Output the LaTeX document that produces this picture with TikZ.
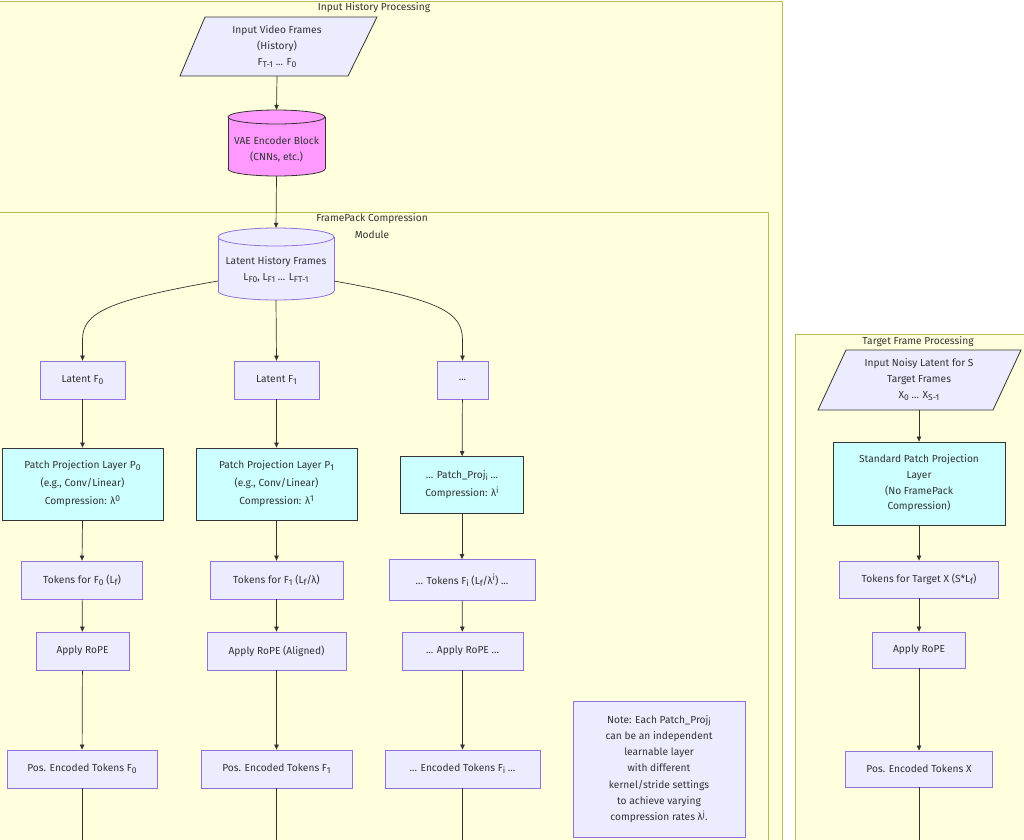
\documentclass[tikz,border=0pt]{standalone}
\usepackage{fontspec}
\setmainfont{Fira Sans}
\usetikzlibrary{arrows.meta}
\definecolor{clfill}{HTML}{FFFFDE}
\definecolor{clstroke}{HTML}{BBBB55}
\definecolor{nfill}{HTML}{ECECFF}
\definecolor{nstroke}{HTML}{9370DB}
\definecolor{cyanfill}{HTML}{CCFFFF}
\definecolor{pinkfill}{HTML}{FF99FF}
\definecolor{ink}{HTML}{333333}
\newcommand\sbs[1]{\raisebox{-0.35ex}{\fontsize{8.5}{8.5}\selectfont #1}}
\newcommand\sps[1]{\raisebox{0.7ex}{\fontsize{8.5}{8.5}\selectfont #1}}
\newcommand\drawcyl[7]{% #1 left #2 right #3 top #4 bottom #5 ry #6 fill #7 stroke
  \pgfmathsetmacro\cylcx{(#1+#2)/2}\pgfmathsetmacro\cylrx{(#2-#1)/2}
  \filldraw[fill=#6,draw=#7,line width=0.8pt] (\cylcx,#4-#5) ellipse[x radius=\cylrx, y radius=#5];
  \fill[#6] (#1,#3+#5) rectangle (#2,#4-#5);
  \draw[#7,line width=0.8pt] (#1,#3+#5) -- (#1,#4-#5) (#2,#3+#5) -- (#2,#4-#5);
  \filldraw[fill=#6,draw=#7,line width=0.8pt] (\cylcx,#3+#5) ellipse[x radius=\cylrx, y radius=#5];
}
\begin{document}
\begin{tikzpicture}[x=1pt,y=-1pt, font=\fontsize{10.2}{16}\selectfont, text=ink,
  cluster/.style={draw=clstroke, fill=clfill, line width=1pt},
  box/.style={draw=nstroke, fill=nfill, line width=0.8pt, align=center, inner sep=0pt},
  cbox/.style={draw=ink, fill=cyanfill, line width=0.8pt, align=center, inner sep=0pt},
  anchorbox/.style={inner sep=0pt, align=center},
  arr/.style={draw=ink, line width=0.7pt, -{Triangle[length=5pt,width=4.5pt]}},
  plain/.style={draw=ink, line width=0.7pt},
  ttl/.style={inner sep=0pt, align=center}]
\useasboundingbox (0,0) rectangle (1024,839);
\clip (0,0) rectangle (1024,839);
% clusters
\path[cluster] (-40,1) rectangle (782,900);
\path[cluster] (-40,212) rectangle (768,900);
\path[cluster] (795,334) rectangle (1060,900);
\node[ttl] (t1) at (374,8) {Input History Processing};
\node[ttl, font=\fontsize{10.2}{17}\selectfont] (t2) at (372,226.5) {FramePack Compression\\Module};
\node[ttl] (t3) at (918,342) {Target Frame Processing};

% input parallelogram
\filldraw[fill=nfill,draw=ink,line width=0.8pt] (205,17) -- (377,17) -- (348,76) -- (180,76) -- cycle;
\node[anchorbox, minimum width=150pt, minimum height=59pt] (in) at (277,46.5) {Input Video Frames\\(History)\\F\sbs{T-1} ... F\sbs{0}};

% VAE cylinder
\drawcyl{228}{325}{110}{176}{7}{pinkfill}{ink}
\node[anchorbox, minimum width=97pt, minimum height=66pt] (vae) at (276.5,143) {};
\node[ttl] (vaet) at (276.5,150) {VAE Encoder Block\\(CNNs, etc.)};

% Latent history cylinder
\drawcyl{218}{334}{228}{300}{9}{nfill}{nstroke}
\node[anchorbox, minimum width=116pt, minimum height=72pt] (lh) at (276,264) {};
\node[ttl] (lht) at (276,269.5) {Latent History Frames\\L\sbs{F0}, L\sbs{F1} ... L\sbs{FT-1}};

% column 0
\node[box, minimum width=85pt, minimum height=38pt] (lf0) at (82.5,380) {Latent F\sbs{0}};
\node[cbox, minimum width=161pt, minimum height=72pt, font=\fontsize{10.2}{18}\selectfont] (p0) at (82.5,484) {Patch Projection Layer P\sbs{0}\\(e.g., Conv/Linear)\\Compression: λ\sps{0}};
\node[box, minimum width=121pt, minimum height=38pt] (tk0) at (82,580) {Tokens for F\sbs{0} (L\sbs{f})};
\node[box, minimum width=93pt, minimum height=38pt] (r0) at (82.5,651) {Apply RoPE};
\node[box, minimum width=150pt, minimum height=38pt] (e0) at (82,769) {Pos. Encoded Tokens F\sbs{0}};

% column 1
\node[box, minimum width=85pt, minimum height=38pt] (lf1) at (276.5,380) {Latent F\sbs{1}};
\node[cbox, minimum width=161pt, minimum height=72pt, font=\fontsize{10.2}{18}\selectfont] (p1) at (276.5,484) {Patch Projection Layer P\sbs{1}\\(e.g., Conv/Linear)\\Compression: λ\sps{1}};
\node[box, minimum width=133pt, minimum height=38pt] (tk1) at (276.5,580) {Tokens for F\sbs{1} (L\sbs{f}/λ)};
\node[box, minimum width=139pt, minimum height=38pt] (r1) at (276.5,651) {Apply RoPE (Aligned)};
\node[box, minimum width=151pt, minimum height=38pt] (e1) at (276.5,769) {Pos. Encoded Tokens F\sbs{1}};

% column i
\node[box, minimum width=51pt, minimum height=38pt] (ld) at (462.5,380) {...};
\node[cbox, minimum width=123pt, minimum height=57pt, font=\fontsize{10.2}{18}\selectfont] (pi) at (462,485) {... Patch\_Proj\sbs{i} ...\\Compression: λ\sps{i}};
\node[box, minimum width=146pt, minimum height=41pt] (tki) at (462,580) {... Tokens F\sbs{i} (L\sbs{f}/λ\sps{i}) ...};
\node[box, minimum width=121pt, minimum height=38pt] (ri) at (462.5,651) {... Apply RoPE ...};
\node[box, minimum width=155pt, minimum height=38pt] (ei) at (462.5,769) {... Encoded Tokens F\sbs{i} ...};

% note
\node[box, minimum width=172pt, minimum height=136pt, font=\fontsize{10.2}{16.3}\selectfont] (note) at (659,769) {Note: Each Patch\_Proj\sbs{j}\\can be an independent\\learnable layer\\with different\\kernel/stride settings\\to achieve varying\\compression rates λ\sps{j}.};

% target column
\filldraw[fill=nfill,draw=ink,line width=0.8pt] (846,350) -- (1021,350) -- (993,410) -- (818,410) -- cycle;
\node[anchorbox, minimum width=150pt, minimum height=60pt] (tin) at (919,380) {Input Noisy Latent for S\\Target Frames\\X\sbs{0} ... X\sbs{S-1}};
\node[cbox, minimum width=172pt, minimum height=83pt, font=\fontsize{10.2}{15.7}\selectfont] (sp) at (919,483.5) {Standard Patch Projection\\Layer\\(No FramePack\\Compression)};
\node[box, minimum width=159pt, minimum height=37pt] (tt) at (919,579.5) {Tokens for Target X (S*L\sbs{f})};
\node[box, minimum width=93pt, minimum height=36pt] (rt) at (919,650) {Apply RoPE};
\node[box, minimum width=147pt, minimum height=36pt] (et) at (919,769) {Pos. Encoded Tokens X};

% free ends
\coordinate (b0) at (82,845);
\coordinate (b1) at (276.5,845);
\coordinate (bi) at (462.5,845);
\coordinate (bt) at (919,845);

% edges
\draw[arr] (in.south) -- (vae.north);
\draw[arr] (vae.south) -- (lh.north);
\draw[arr] ([yshift=-17pt]lh.west) .. controls (110,300) and (82,312) .. (82.5,340) -- (lf0.north);
\draw[arr] (lh.south) -- (lf1.north);
\draw[arr] ([yshift=-17pt]lh.east) .. controls (440,300) and (462.5,312) .. (462.5,340) -- (ld.north);

\draw[arr] (lf0) -- (p0);
\draw[arr] (p0.south) -- (tk0.north);
\draw[arr] (tk0) -- (r0);
\draw[arr] (r0) -- (e0);
\draw[plain] (e0.south) -- (b0);

\draw[arr] (lf1) -- (p1);
\draw[arr] (p1) -- (tk1);
\draw[arr] (tk1) -- (r1);
\draw[arr] (r1) -- (e1);
\draw[plain] (e1.south) -- (b1);

\draw[arr] (ld) -- (pi);
\draw[arr] (pi) -- (tki);
\draw[arr] (tki) -- (ri);
\draw[arr] (ri) -- (ei);
\draw[plain] (ei.south) -- (bi);

\draw[arr] (tin.south) -- (sp.north);
\draw[arr] (sp) -- (tt);
\draw[arr] (tt) -- (rt);
\draw[arr] (rt) -- (et);
\draw[plain] (et.south) -- (bt);
\end{tikzpicture}
\end{document}
